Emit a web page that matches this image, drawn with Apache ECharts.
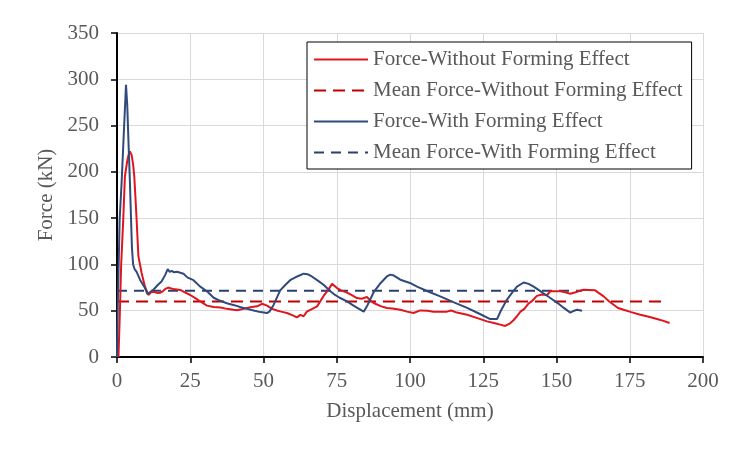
<!DOCTYPE html>
<html lang="en">
<head>
    <meta charset="UTF-8">
    <title>Force - Displacement</title>
    <script src="https://cdn.jsdelivr.net/npm/echarts@6/dist/echarts.min.js"></script>
</head>
<body style="margin:0;">
<div id="chart" style="width:753px; height:449px;"></div>
<script type="text/javascript">
// tick values
var xTicks = [0, 25, 50, 75, 100, 125, 150, 175, 200];
var yTicks = [0, 50, 100, 150, 200, 250, 300, 350];

// Force-Without Forming Effect
var dispWithout = [0.5, 1.0, 1.4, 2.15, 2.7, 3.5, 4.0, 4.4, 5.0, 5.5, 5.9, 6.3, 6.7, 7.3, 8.4, 9.55, 10.7, 11.6, 12.5, 13.9, 14.8, 15.6, 16.5, 17.5, 18.5, 19.3, 21.6, 23, 25, 27, 28.4, 30.7, 33, 35.3, 37.5, 39.8, 41, 42.5, 44.4, 46, 47.8, 49.5, 51.2, 53, 54.6, 56, 58, 60, 61.4, 62.6, 63.7, 64.8, 66, 68.3, 70.5, 72, 73.4, 74, 75.1, 76.5, 78.5, 80, 81.9, 83.5, 85.3, 86.5, 87.6, 90, 92.1, 94, 96.7, 99, 101.2, 103.5, 106, 108, 110, 112.6, 114, 116, 119.5, 123, 126.3, 129, 130.8, 132.5, 134, 135.4, 136.5, 137.7, 139, 140.5, 141.5, 143.3, 145, 146.8, 147.9, 149.5, 151.3, 153, 154.7, 156.5, 158, 159.3, 161, 163.2, 164.5, 166.1, 168, 169.5, 171, 172.9, 175.5, 178.6, 181.5, 184.3, 186.5, 188.6];
var forceWithout = [0, 50, 98, 150, 195, 212, 219, 222, 218, 208, 195, 172, 148, 109, 90.7, 76, 67, 70, 70.5, 69, 69.5, 71, 73.5, 75, 74, 73.5, 72.5, 70, 67, 63, 60, 55.5, 54, 53.5, 52, 51, 50.5, 51.5, 53, 54, 54.7, 57.5, 55.5, 52, 50.3, 49, 47.5, 45, 42.8, 45.5, 44, 49, 51, 54.7, 66, 72, 79, 78, 74.5, 72, 69.5, 67, 63.7, 63, 64.8, 61, 58.3, 55, 53, 52.5, 51, 49, 47.5, 50.3, 50, 49, 49, 49, 50.3, 48, 45.7, 42, 38.5, 36.5, 35, 33.5, 36, 40, 44, 49, 52, 58, 60, 66, 67.5, 67, 71, 71, 71, 70, 68.4, 70, 71.5, 72.7, 72.5, 72, 69, 65.5, 60, 56.5, 53, 51, 48.5, 45.7, 43.5, 41, 39, 36.7];

// Force-With Forming Effect
var dispWith = [0, 0.3, 0.9, 1.6, 2.3, 2.8, 3.07, 3.5, 4.0, 4.4, 4.8, 5.1, 5.5, 6.0, 6.7, 7.85, 9.55, 10.4, 11.2, 12.4, 14.0, 15.2, 16.5, 17.3, 18.0, 18.7, 19.5, 20.5, 21.6, 22.7, 24.0, 26.1, 28.4, 30.7, 33, 35, 37.5, 40, 42, 44.4, 47, 49, 51.2, 52, 53.4, 55.7, 57.5, 59.1, 61.5, 63.7, 65, 66.5, 68.3, 70.5, 72.8, 74, 76, 78.5, 81, 84.2, 85.5, 87.6, 90, 92.1, 93.3, 94.5, 96.7, 100, 102.4, 106, 110.3, 115, 119.5, 123.5, 127.4, 129.7, 131, 133.1, 135, 136.5, 138.8, 140.5, 142.2, 145, 147.9, 150.5, 152.5, 154.7, 156, 157, 158.7];
var forceWith = [0, 60, 148, 190, 240, 275, 294, 272, 225, 190, 148, 118, 100, 95, 92, 83.5, 74.5, 68, 70, 72.7, 78, 81.6, 89, 95, 92, 93, 91.5, 92, 91, 90, 86, 83, 76, 71, 64, 61, 58, 56, 54, 52, 50, 48.5, 47.5, 49, 56, 72, 78, 83, 87, 90, 89.5, 87, 83, 78, 71, 68, 64, 60, 55, 49, 56, 70, 80, 87, 89, 88, 83.5, 80, 76, 71, 65.5, 59, 53, 47, 41, 41, 50, 62, 70, 76, 80.5, 79, 76, 70, 63.7, 58, 53, 48, 50, 51, 50];

// mean lines
var meanWithout = 60;
var meanWithoutEnd = 188;
var meanWith = 71.5;
var meanWithEnd = 158.7;

function pairs(xs, ys) {
    var out = [];
    for (var i = 0; i < xs.length; i++) {
        out.push([xs[i], ys[i]]);
    }
    return out;
}

var font = '"Liberation Serif", "Times New Roman", serif';
var textColor = '#595959';

var myChart = echarts.init(document.getElementById('chart'));
myChart.setOption({
    animation: false,
    backgroundColor: '#ffffff',
    textStyle: {fontFamily: font},
    grid: {left: 117, right: 50, top: 33, bottom: 92},
    legend: {
        orient: 'vertical',
        left: 307,
        top: 42,
        padding: [7, 9, 6, 6],
        itemWidth: 54,
        itemHeight: 14,
        itemGap: 10,
        itemStyle: {opacity: 0},
        borderColor: '#000000',
        borderWidth: 1,
        backgroundColor: '#ffffff',
        textStyle: {fontFamily: font, fontSize: 21, color: textColor},
        data: ['Force-Without Forming Effect', 'Mean Force-Without Forming Effect',
               'Force-With Forming Effect', 'Mean Force-With Forming Effect']
    },
    xAxis: {
        type: 'value',
        min: xTicks[0],
        max: xTicks[xTicks.length - 1],
        interval: 25,
        name: 'Displacement (mm)',
        nameLocation: 'middle',
        nameGap: 44,
        nameTextStyle: {fontFamily: font, fontSize: 21, color: textColor},
        axisLine: {lineStyle: {color: '#000000', width: 2}},
        axisTick: {show: true, length: 6, lineStyle: {color: '#000000', width: 1.5}},
        axisLabel: {fontFamily: font, fontSize: 21, color: textColor, margin: 14},
        splitLine: {show: true, lineStyle: {color: '#d9d9d9', width: 1}}
    },
    yAxis: {
        type: 'value',
        min: yTicks[0],
        max: yTicks[yTicks.length - 1],
        interval: 50,
        name: 'Force (kN)',
        nameLocation: 'middle',
        nameGap: 58,
        nameTextStyle: {fontFamily: font, fontSize: 21, color: textColor},
        axisLine: {show: true, lineStyle: {color: '#000000', width: 2}},
        axisTick: {show: true, length: 6, lineStyle: {color: '#000000', width: 1.5}},
        axisLabel: {fontFamily: font, fontSize: 21, color: textColor, margin: 18},
        splitLine: {show: true, lineStyle: {color: '#d9d9d9', width: 1}}
    },
    series: [
        {
            name: 'Force-Without Forming Effect',
            type: 'line',
            symbol: 'none',
            color: '#e0161e',
            lineStyle: {color: '#e0161e', width: 2},
            data: pairs(dispWithout, forceWithout),
            z: 3
        },
        {
            name: 'Mean Force-Without Forming Effect',
            type: 'line',
            symbol: 'none',
            color: '#c00000',
            lineStyle: {color: '#c00000', width: 2, type: [12, 7]},
            data: [[0, meanWithout], [meanWithoutEnd, meanWithout]],
            z: 2
        },
        {
            name: 'Force-With Forming Effect',
            type: 'line',
            symbol: 'none',
            color: '#2f4a7b',
            lineStyle: {color: '#2f4a7b', width: 2},
            data: pairs(dispWith, forceWith),
            z: 3
        },
        {
            name: 'Mean Force-With Forming Effect',
            type: 'line',
            symbol: 'none',
            color: '#2b406b',
            lineStyle: {color: '#2b406b', width: 2, type: [10, 7]},
            data: [[0, meanWith], [meanWithEnd, meanWith]],
            z: 2
        }
    ]
});
</script>
</body>
</html>
